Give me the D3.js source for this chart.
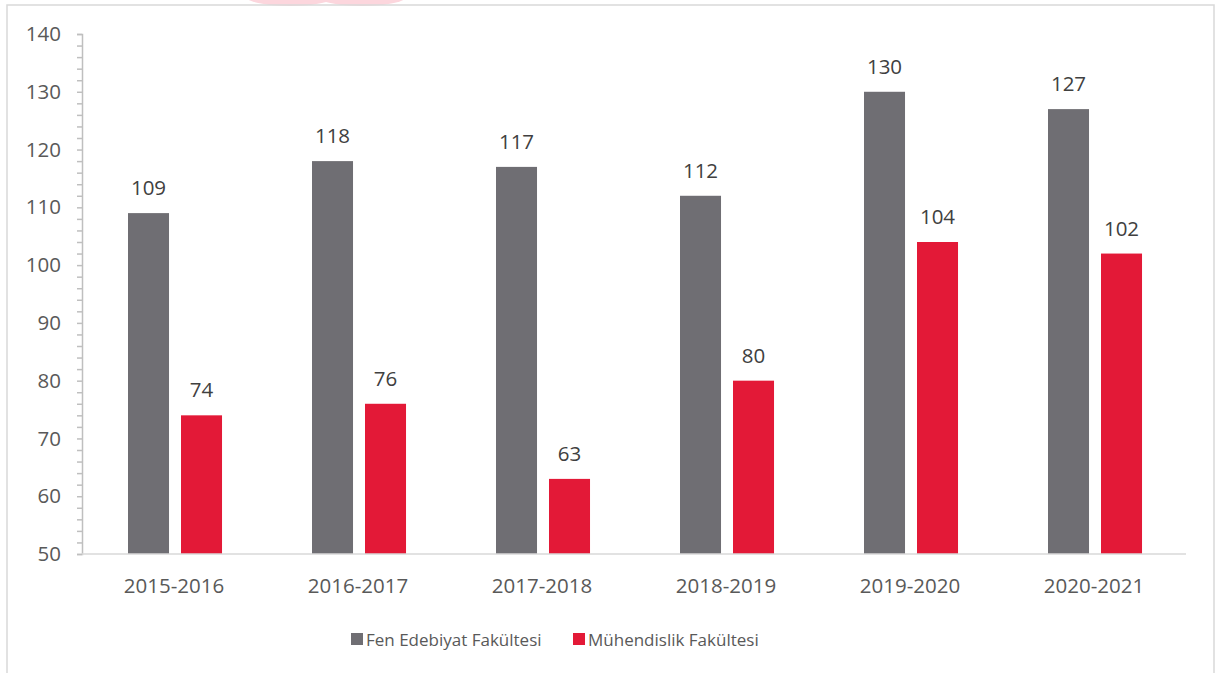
<!DOCTYPE html>
<html>
<head>
<meta charset="utf-8">
<script src="https://cdn.jsdelivr.net/npm/d3@7"></script>
<style>
  body { margin: 0; background: #fff; }
  text { font-family: "Open Sans", sans-serif; }
</style>
</head>
<body>
<div id="chart"></div>
<script>
const years = ["2015-2016", "2016-2017", "2017-2018", "2018-2019", "2019-2020", "2020-2021"];
const seriesNames = ["Fen Edebiyat Fakültesi", "Mühendislik Fakültesi"];
const fenValues = [109, 118, 117, 112, 130, 127];
const muhValues = [74, 76, 63, 80, 104, 102];
const seriesColors = ["#6f6e73", "#e31937"];
const yTicks = d3.range(50, 141, 2);

const width = 1217, height = 673;
const margin = { top: 34, right: 31, bottom: 119, left: 82 };

const svg = d3.select("#chart").append("svg")
  .attr("width", width)
  .attr("height", height);

// faint logo watermark peeking in at the top
svg.append("ellipse")
  .attr("cx", 290).attr("cy", -4)
  .attr("rx", 45).attr("ry", 10)
  .attr("fill", "#fcd6dd");
svg.append("ellipse")
  .attr("cx", 362).attr("cy", -4)
  .attr("rx", 45).attr("ry", 10)
  .attr("fill", "#fcd6dd");

// outer frame
svg.append("rect")
  .attr("x", 7).attr("y", 5)
  .attr("width", 1207).attr("height", 720)
  .attr("fill", "none")
  .attr("stroke", "#d9d9d9")
  .attr("stroke-width", 1.5);

const x0 = d3.scaleBand()
  .domain(years)
  .range([margin.left, width - margin.right]);
const bw = x0.bandwidth();
const x1 = d3.scaleBand()
  .domain(seriesNames)
  .range([bw * 0.25, bw * 0.761])
  .paddingInner(0.226);
const y = d3.scaleLinear()
  .domain([50, 140])
  .range([height - margin.bottom, margin.top]);

// y axis
const yAxis = svg.append("g")
  .attr("transform", `translate(${margin.left},0)`)
  .call(d3.axisLeft(y)
    .tickValues(yTicks)
    .tickFormat(d => d % 10 === 0 ? d : "")
    .tickSize(5)
    .tickPadding(16));
yAxis.select(".domain").attr("stroke", "#bfbfbf").attr("stroke-width", 1.5);
yAxis.selectAll(".tick line").attr("stroke", "#bfbfbf").attr("stroke-width", 1.5);
yAxis.selectAll(".tick text")
  .attr("fill", "#595959")
  .style("font-size", "20.5px")
  .style("font-family", "'Open Sans', sans-serif");

const rows = years.map((yr, i) => ({ year: yr, values: [fenValues[i], muhValues[i]] }));

const groups = svg.selectAll("g.year")
  .data(rows)
  .enter()
  .append("g")
  .attr("class", "year")
  .attr("transform", d => `translate(${x0(d.year)},0)`);

groups.selectAll("rect")
  .data(d => d.values.map((v, j) => ({ name: seriesNames[j], v: v, j: j })))
  .enter()
  .append("rect")
  .attr("x", d => x1(d.name))
  .attr("width", x1.bandwidth())
  .attr("y", d => y(d.v))
  .attr("height", d => y(50) - y(d.v))
  .attr("fill", d => seriesColors[d.j]);

groups.selectAll("text.val")
  .data(d => d.values.map((v, j) => ({ name: seriesNames[j], v: v })))
  .enter()
  .append("text")
  .attr("class", "val")
  .attr("x", d => x1(d.name) + x1.bandwidth() / 2)
  .attr("y", d => y(d.v) - 18)
  .attr("text-anchor", "middle")
  .attr("fill", "#404040")
  .style("font-size", "20.5px")
  .text(d => d.v);

// x axis line
svg.append("line")
  .attr("x1", margin.left).attr("x2", width - margin.right)
  .attr("y1", y(50)).attr("y2", y(50))
  .attr("stroke", "#d9d9d9")
  .attr("stroke-width", 1.5);

svg.selectAll("text.cat")
  .data(years)
  .enter()
  .append("text")
  .attr("class", "cat")
  .attr("x", d => x0(d) + bw / 2)
  .attr("y", y(50) + 39)
  .attr("text-anchor", "middle")
  .attr("fill", "#595959")
  .style("font-size", "20.5px")
  .text(d => d);

// legend
const legendX = [351, 573];
const legend = svg.selectAll("g.legend")
  .data(seriesNames)
  .enter()
  .append("g")
  .attr("class", "legend")
  .attr("transform", (d, i) => `translate(${legendX[i]},633)`);
legend.append("rect")
  .attr("width", 12).attr("height", 12)
  .attr("fill", (d, i) => seriesColors[i]);
legend.append("text")
  .attr("x", 15)
  .attr("y", 12.5)
  .attr("fill", "#595959")
  .style("font-size", "17px")
  .text(d => d);
</script>
</body>
</html>
